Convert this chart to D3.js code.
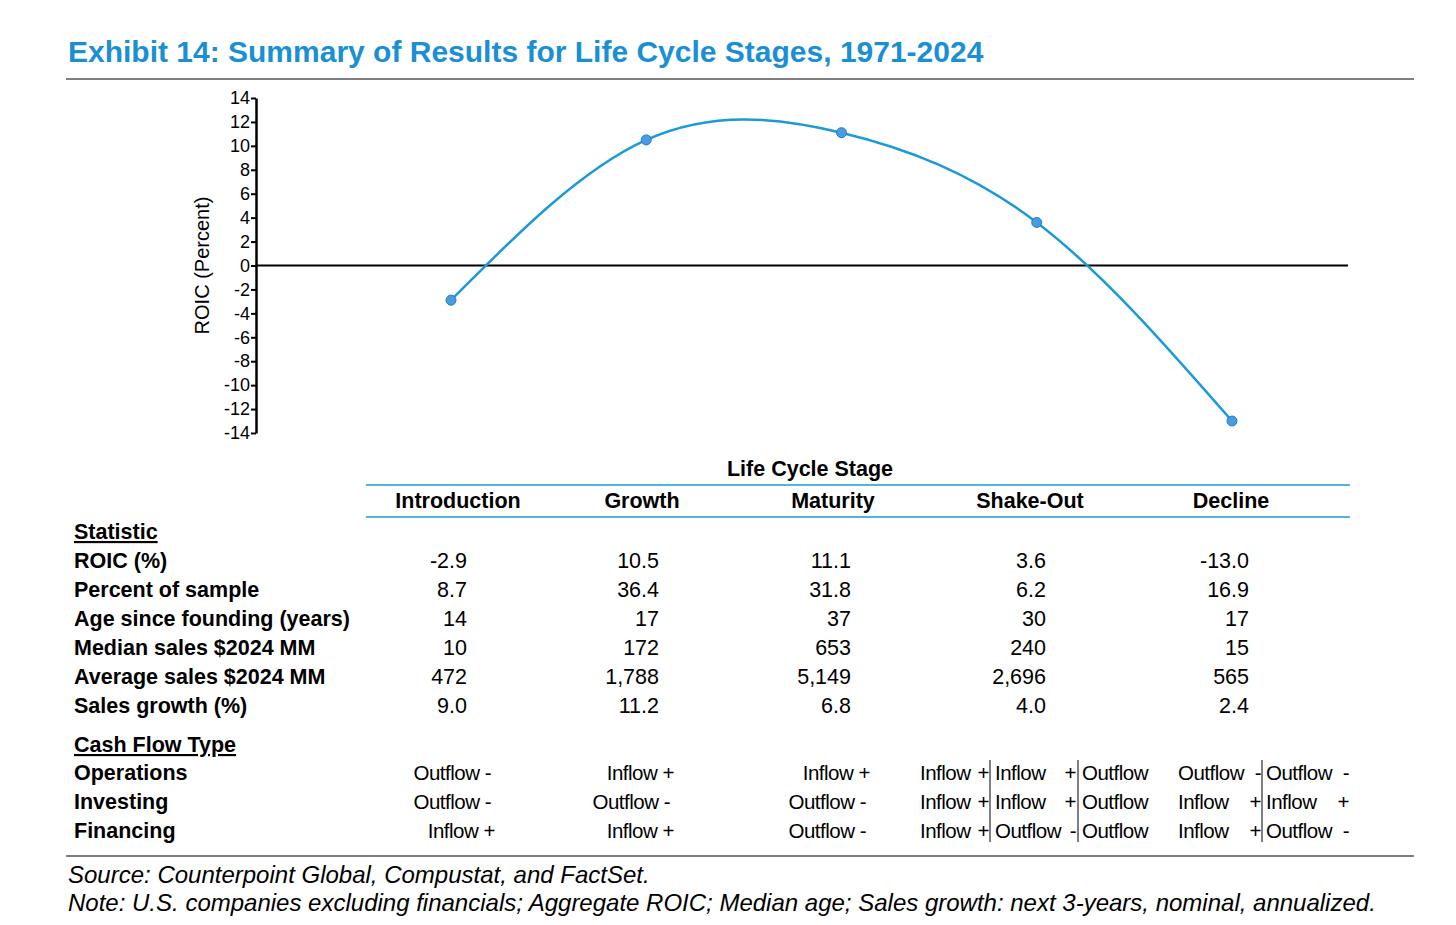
<!DOCTYPE html>
<html><head><meta charset="utf-8">
<script src="https://cdn.jsdelivr.net/npm/d3@7"></script>
<style>body{margin:0;background:#fff}text{font-family:Arial,"Liberation Sans",sans-serif}</style>
</head><body><svg id="c" width="1456" height="925"></svg>
<script>
var stages = ["Introduction", "Growth", "Maturity", "Shake-Out", "Decline"];
var roic = [-2.9, 10.5, 11.1, 3.6, -13.0];
var yTicks = d3.range(-14, 15, 2);
var statLabels = ["ROIC (%)", "Percent of sample", "Age since founding (years)", "Median sales $2024 MM", "Average sales $2024 MM", "Sales growth (%)"];
var statValues = [
    ["-2.9", "10.5", "11.1", "3.6", "-13.0"],
    ["8.7", "36.4", "31.8", "6.2", "16.9"],
    ["14", "17", "37", "30", "17"],
    ["10", "172", "653", "240", "15"],
    ["472", "1,788", "5,149", "2,696", "565"],
    ["9.0", "11.2", "6.8", "4.0", "2.4"]
];
var flowLabels = ["Operations", "Investing", "Financing"];
// [text, x anchor end]
var flowSimple = [
    [["Outflow -", 491], ["Inflow +", 674], ["Inflow +", 870]],
    [["Outflow -", 491], ["Outflow -", 670], ["Outflow -", 866]],
    [["Inflow +", 495], ["Inflow +", 674], ["Outflow -", 866]]
];
// shake-out and decline sub-cells: [word, sign] per sub-column
var flowShake = [
    [["Inflow", "+"], ["Inflow", "+"], ["Outflow", ""]],
    [["Inflow", "+"], ["Inflow", "+"], ["Outflow", ""]],
    [["Inflow", "+"], ["Outflow", "-"], ["Outflow", ""]]
];
var flowDecline = [
    [["Outflow", "-"], ["Outflow", "-"]],
    [["Inflow", "+"], ["Inflow", "+"]],
    [["Inflow", "+"], ["Outflow", "-"]]
];

var svg = d3.select("#c");
var blue = "#1a9ad6";
var fs = "21.5px";

svg.append("text").attr("x", 68).attr("y", 62).attr("fill", "#1a8fd4")
    .style("font-size", "30px").style("font-weight", "bold")
    .text("Exhibit 14: Summary of Results for Life Cycle Stages, 1971-2024");
svg.append("line").attr("x1", 66).attr("x2", 1414).attr("y1", 79).attr("y2", 79).attr("stroke", "#000").attr("stroke-width", 1.2);

var x = d3.scalePoint().domain(stages).range([451, 1232]);
var y = d3.scaleLinear().domain([-14, 14]).range([433, 98]);

svg.append("g").attr("transform", "translate(256,0)")
    .call(d3.axisLeft(y).tickValues(yTicks).tickSize(5).tickSizeOuter(0).tickFormat(d3.format("d")))
    .call(function (g) {
        g.attr("font-size", 18).attr("font-family", null);
        g.select(".domain").attr("stroke-width", 2.5);
        g.selectAll(".tick line").attr("stroke-width", 2);
        g.selectAll("text").attr("fill", "#000").attr("x", -6)
            .text(function (d) { return String(d); });
    });
svg.append("line").attr("x1", 256).attr("x2", 1348).attr("y1", y(0)).attr("y2", y(0)).attr("stroke", "#000").attr("stroke-width", 2);
svg.append("text").attr("transform", "translate(209," + y(0) + ") rotate(-90)")
    .attr("text-anchor", "middle").style("font-size", "20px").text("ROIC  (Percent)");

var line = d3.line().x(function (d, i) { return x(stages[i]); }).y(function (d) { return y(d); }).curve(d3.curveNatural);
svg.append("path").datum(roic).attr("d", line).attr("fill", "none").attr("stroke", blue).attr("stroke-width", 2.5);
svg.selectAll("circle.p").data(roic).enter().append("circle")
    .attr("cx", function (d, i) { return x(stages[i]); }).attr("cy", function (d) { return y(d); })
    .attr("r", 5).attr("fill", "#4a9be0").attr("stroke", "#1a7fc4").attr("stroke-width", 1);

// table header
svg.append("text").attr("x", 810).attr("y", 476).attr("text-anchor", "middle").style("font-size", fs).style("font-weight", "bold").text("Life Cycle Stage");
svg.append("line").attr("x1", 366).attr("x2", 1350).attr("y1", 485).attr("y2", 485).attr("stroke", blue).attr("stroke-width", 1.5);
svg.append("line").attr("x1", 366).attr("x2", 1350).attr("y1", 517).attr("y2", 517).attr("stroke", blue).attr("stroke-width", 1.5);
var headX = [458, 642, 833, 1030, 1231];
stages.forEach(function (s, i) {
    svg.append("text").attr("x", headX[i]).attr("y", 508).attr("text-anchor", "middle").style("font-size", fs).style("font-weight", "bold").text(s);
});

function bold(t, yy, ul) {
    svg.append("text").attr("x", 74).attr("y", yy).style("font-size", fs).style("font-weight", "bold")
        .style("text-decoration", ul ? "underline" : null).text(t);
}
bold("Statistic", 539, true);
var valEnd = [467, 659, 851, 1046, 1249];
statLabels.forEach(function (l, r) {
    var yy = 568 + r * 29;
    bold(l, yy);
    statValues[r].forEach(function (v, i) {
        svg.append("text").attr("x", valEnd[i]).attr("y", yy).attr("text-anchor", "end").style("font-size", fs).text(v);
    });
});

bold("Cash Flow Type", 752, true);
function txt(t, xx, yy, anchor) {
    svg.append("text").attr("x", xx).attr("y", yy).attr("text-anchor", anchor || "start").style("font-size", "20.5px").style("letter-spacing", "-0.5px").text(t);
}
flowLabels.forEach(function (l, r) {
    var yy = 780 + r * 29;
    bold(l, yy);
    flowSimple[r].forEach(function (c) { txt(c[0], c[1], yy, "end"); });
    var sx = [[920, 989], [995, 1076], [1082, 1160]];
    flowShake[r].forEach(function (c, i) {
        txt(c[0], sx[i][0], yy);
        if (c[1]) txt(c[1], sx[i][1], yy, "end");
    });
    var dx = [[1178, 1261], [1266, 1349]];
    flowDecline[r].forEach(function (c, i) {
        txt(c[0], dx[i][0], yy);
        txt(c[1], dx[i][1], yy, "end");
    });
});
[990, 1078, 1262].forEach(function (xx) {
    svg.append("line").attr("x1", xx).attr("x2", xx).attr("y1", 760).attr("y2", 842).attr("stroke", "#000").attr("stroke-width", 1);
});

svg.append("line").attr("x1", 66).attr("x2", 1414).attr("y1", 856).attr("y2", 856).attr("stroke", "#000").attr("stroke-width", 1.2);
svg.append("text").attr("x", 68).attr("y", 883).style("font-size", "24px").style("font-style", "italic").text("Source: Counterpoint Global, Compustat, and FactSet.");
svg.append("text").attr("x", 68).attr("y", 911).style("font-size", "24px").style("font-style", "italic").text("Note: U.S. companies excluding financials; Aggregate ROIC; Median age; Sales growth: next 3-years, nominal, annualized.");
</script></body></html>
